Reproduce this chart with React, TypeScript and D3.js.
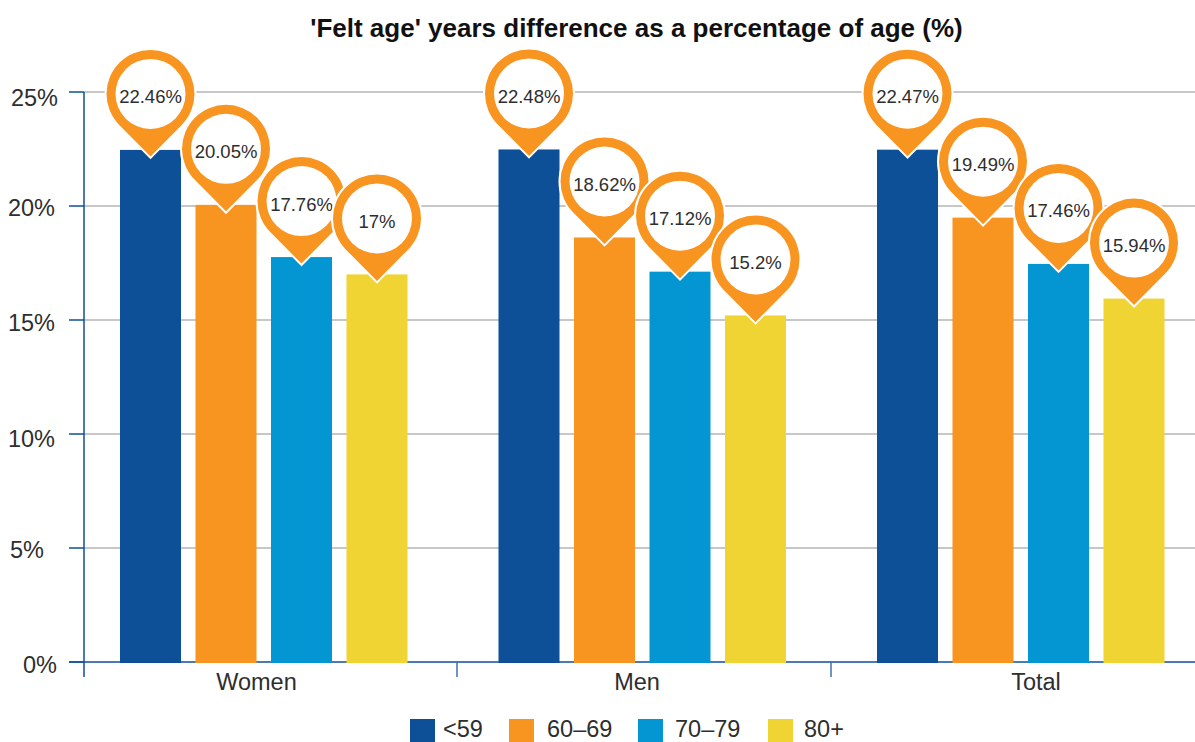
import { useEffect, useRef } from 'react';
import * as d3 from 'd3';

const categories = ['Women', 'Men', 'Total'];
const seriesNames = ['<59', '60–69', '70–79', '80+'];
const seriesColors = ['#0e5097', '#f89420', '#0496d2', '#efd433'];
const women = [22.46, 20.05, 17.76, 17];
const men = [22.48, 18.62, 17.12, 15.2];
const total = [22.47, 19.49, 17.46, 15.94];
const yTicks = [0, 5, 10, 15, 20, 25];
const title = "'Felt age' years difference as a percentage of age (%)";

const FONT = '"Liberation Sans", Arial, sans-serif';
const TEXT = '#2e2e2e';

export default function App() {
  const svgRef = useRef<SVGSVGElement>(null);

  useEffect(() => {
    if (!svgRef.current) return;
    const width = 1195;
    const height = 742;

    const svg = d3.select(svgRef.current);
    svg.selectAll('*').remove();
    svg.style('font-family', FONT);

    const rows = [women, men, total];

    // bar groups are spaced wider than the axis ticks in the original
    const xScale = d3.scaleBand<string>().domain(categories).range([112.75, 1248.25]);
    const xInner = d3
      .scaleBand<string>()
      .domain(seriesNames)
      .range([0, 302])
      .paddingInner(0.192)
      .paddingOuter(0.096);
    const yScale = d3.scaleLinear().domain([0, 25]).range([662, 92]);

    const xTickScale = d3.scaleOrdinal<string, number>().domain(categories.slice(1)).range([457, 831]);
    const xLabelScale = d3.scaleOrdinal<string, number>().domain(categories).range([256.5, 637, 1036]);

    // y labels are hand placed in the original, not quite aligned
    const yLabelEnd = d3.scaleOrdinal<number, number>().domain(yTicks).range([57, 44, 55, 55, 55, 58]);
    const yLabelDy = d3.scaleOrdinal<number, number>().domain(yTicks).range([11, 10, 13, 11, 10, 14]);

    svg
      .append('text')
      .attr('x', 636.5)
      .attr('y', 37)
      .attr('text-anchor', 'middle')
      .style('font-size', '26px')
      .style('font-weight', 700)
      .style('fill', '#111')
      .text(title);

    // Gridlines
    svg
      .append('g')
      .selectAll('line')
      .data(yTicks.filter((d) => d > 0))
      .join('line')
      .attr('x1', 84)
      .attr('x2', width)
      .attr('y1', (d) => yScale(d))
      .attr('y2', (d) => yScale(d))
      .attr('stroke', '#b5b5b5')
      .attr('stroke-width', 1.5);

    // Y axis
    const yAxis = svg.append('g');
    yAxis
      .append('line')
      .attr('x1', 84)
      .attr('x2', 84)
      .attr('y1', yScale(25))
      .attr('y2', 677)
      .attr('stroke', '#0e5097')
      .attr('stroke-width', 1.5);
    yAxis
      .selectAll('line.tick')
      .data(yTicks)
      .join('line')
      .attr('class', 'tick')
      .attr('x1', 69)
      .attr('x2', 84)
      .attr('y1', (d) => yScale(d))
      .attr('y2', (d) => yScale(d))
      .attr('stroke', '#0e5097')
      .attr('stroke-width', 1.5);
    yAxis
      .selectAll('text')
      .data(yTicks)
      .join('text')
      .attr('x', (d) => yLabelEnd(d))
      .attr('y', (d) => yScale(d) + yLabelDy(d))
      .attr('text-anchor', 'end')
      .style('font-size', '23.5px')
      .style('fill', TEXT)
      .text((d) => `${d}%`);

    // X axis line goes under the bars
    const xAxis = svg.append('g');
    xAxis
      .append('line')
      .attr('x1', 69)
      .attr('x2', width)
      .attr('y1', yScale(0))
      .attr('y2', yScale(0))
      .attr('stroke', '#0e5097')
      .attr('stroke-width', 1.5);
    xAxis
      .selectAll('line.tick')
      .data(categories.slice(1))
      .join('line')
      .attr('class', 'tick')
      .attr('x1', (d) => xTickScale(d))
      .attr('x2', (d) => xTickScale(d))
      .attr('y1', yScale(0))
      .attr('y2', 677)
      .attr('stroke', '#3f6fae')
      .attr('stroke-width', 1.5);
    xAxis
      .selectAll('text')
      .data(categories)
      .join('text')
      .attr('x', (d) => xLabelScale(d))
      .attr('y', 690)
      .attr('text-anchor', 'middle')
      .style('font-size', '23.5px')
      .style('fill', TEXT)
      .text((d) => d);

    // Bars
    const groups = svg
      .append('g')
      .selectAll('g')
      .data(categories)
      .join('g')
      .attr('transform', (d) => `translate(${xScale(d)}, 0)`);

    groups
      .selectAll('rect')
      .data((_, i) => rows[i])
      .join('rect')
      .attr('x', (_, i) => xInner(seriesNames[i])!)
      .attr('y', (d) => yScale(d))
      .attr('width', xInner.bandwidth())
      .attr('height', (d) => yScale(0) - yScale(d) + 1)
      .attr('fill', (_, i) => seriesColors[i]);

    // Map pin shape, tip at origin
    const r = 44;
    const cy = -62.5;
    const inner = 35;
    const tx = r * Math.sqrt(1 - (r / -cy) ** 2);
    const ty = cy + (r * r) / -cy;
    const pinPath = d3.path();
    pinPath.moveTo(0, 0);
    pinPath.lineTo(-tx, ty);
    pinPath.arc(0, cy, r, Math.atan2(ty - cy, -tx), Math.atan2(ty - cy, tx), false);
    pinPath.closePath();

    categories.forEach((cat, ci) => {
      const pins = svg
        .append('g')
        .selectAll('g')
        .data(rows[ci])
        .join('g')
        .attr(
          'transform',
          (d, i) =>
            `translate(${xScale(cat)! + xInner(seriesNames[i])! + xInner.bandwidth() / 2}, ${yScale(d) + 6.5})`
        );

      pins
        .append('path')
        .attr('d', pinPath.toString())
        .attr('fill', '#f89420')
        .attr('stroke', '#fff')
        .attr('stroke-width', 4)
        .attr('stroke-linejoin', 'miter')
        .style('paint-order', 'stroke');

      pins.append('circle').attr('cy', cy).attr('r', inner).attr('fill', '#fff');

      pins
        .append('text')
        .attr('y', cy + 9.5)
        .attr('text-anchor', 'middle')
        .style('font-size', '18.5px')
        .style('fill', TEXT)
        .text((d) => `${d}%`);
    });

    // Legend
    const legendX = d3.scaleOrdinal<string, number>().domain(seriesNames).range([410, 509, 638, 768]);
    const legendTextX = d3.scaleOrdinal<string, number>().domain(seriesNames).range([33, 38, 37, 36]);
    const legend = svg
      .append('g')
      .selectAll('g')
      .data(seriesNames)
      .join('g')
      .attr('transform', (d) => `translate(${legendX(d)}, 719)`);
    legend
      .append('rect')
      .attr('width', 25)
      .attr('height', 23)
      .attr('fill', (_, i) => seriesColors[i]);
    // baseline kept just high enough that the text box stays inside the page
    legend
      .append('text')
      .attr('x', (d) => legendTextX(d))
      .attr('y', 18)
      .style('font-size', '23.5px')
      .style('fill', TEXT)
      .text((d) => d);

    svg.attr('width', width).attr('height', height);
  }, []);

  return (
    <svg
      ref={svgRef}
      width={1195}
      height={742}
      style={{ position: 'absolute', left: 0, top: 0, background: '#fff' }}
    />
  );
}
